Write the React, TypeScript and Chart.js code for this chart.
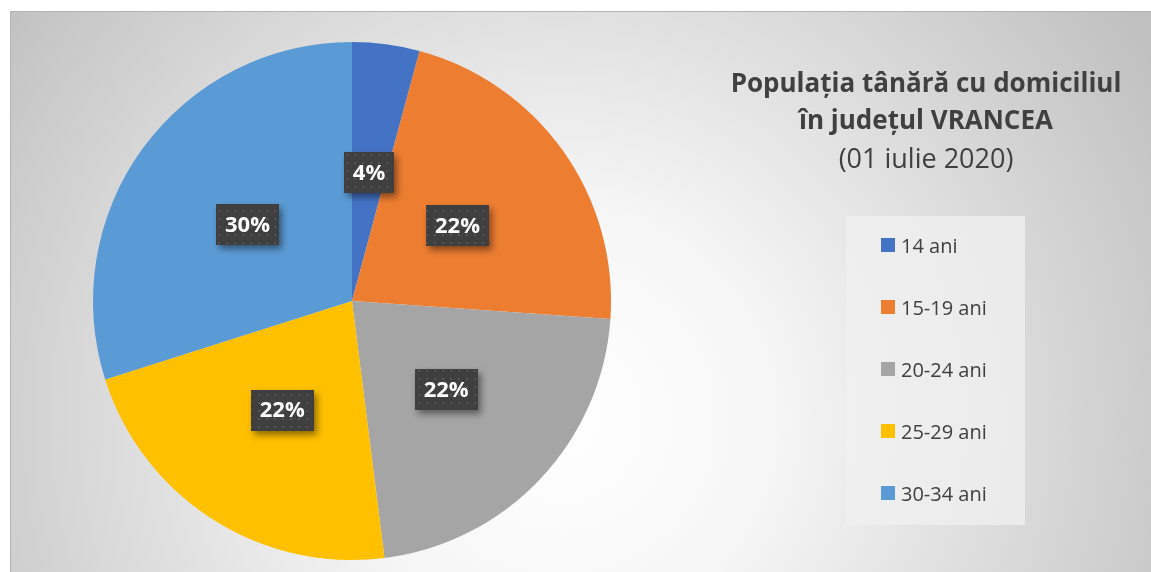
import React, { useEffect, useRef } from "react";
import { Chart, registerables } from "chart.js";

Chart.register(...registerables);

const categories = ["14 ani", "15-19 ani", "20-24 ani", "25-29 ani", "30-34 ani"];
const values = [4.2, 21.9, 21.9, 22.1, 29.9];
const colors = ["#4472C4", "#ED7D31", "#A5A5A5", "#FFC000", "#5B9BD5"];
const titleLines = ["Populația tânără cu domiciliul", "în județul VRANCEA", "(01 iulie 2020)"];

const FONT = "'Open Sans', sans-serif";
const TEXT = "#404040";

function makePattern(ctx: CanvasRenderingContext2D) {
  const c = document.createElement("canvas");
  c.width = 8;
  c.height = 8;
  const p = c.getContext("2d")!;
  p.fillStyle = "#3f3f3f";
  p.fillRect(0, 0, 8, 8);
  p.fillStyle = "#555555";
  p.fillRect(2, 2, 2, 2);
  return ctx.createPattern(c, "repeat");
}

const bgPlugin = {
  id: "bg",
  beforeDraw(chart: any) {
    const ctx = chart.ctx as CanvasRenderingContext2D;
    const W = chart.width;
    const H = chart.height;
    ctx.save();
    ctx.fillStyle = "#ffffff";
    ctx.fillRect(0, 0, W, H);
    const g = ctx.createRadialGradient(560, 420, 0, 560, 420, 700);
    g.addColorStop(0, "#ffffff");
    g.addColorStop(0.3, "#f6f6f6");
    g.addColorStop(1, "#c0c0c0");
    ctx.fillStyle = g;
    ctx.fillRect(10, 11, W - 10, H - 11);
    ctx.strokeStyle = "#b4b4b4";
    ctx.lineWidth = 1;
    ctx.beginPath();
    ctx.moveTo(10.5, H);
    ctx.lineTo(10.5, 11.5);
    ctx.lineTo(W, 11.5);
    ctx.stroke();
    ctx.restore();
  },
};

const overlayPlugin = {
  id: "overlay",
  afterDraw(chart: any) {
    const ctx = chart.ctx as CanvasRenderingContext2D;
    const meta = chart.getDatasetMeta(0);
    const data = chart.data.datasets[0].data as number[];
    const total = data.reduce((a, b) => a + b, 0);
    const pattern = makePattern(ctx);

    // data labels
    meta.data.forEach((arc: any, i: number) => {
      const mid = (arc.startAngle + arc.endAngle) / 2;
      const r = arc.outerRadius * 0.5;
      const x = arc.x + Math.cos(mid) * r;
      const y = arc.y + Math.sin(mid) * r;
      const txt = Math.round((data[i] / total) * 100) + "%";
      ctx.save();
      ctx.font = `bold 22px ${FONT}`;
      const tw = ctx.measureText(txt).width;
      const bw = tw + 18;
      const bh = 41;
      ctx.shadowColor = "rgba(0,0,0,0.45)";
      ctx.shadowBlur = 7;
      ctx.shadowOffsetX = 3;
      ctx.shadowOffsetY = 4;
      ctx.fillStyle = pattern || "#404040";
      ctx.fillRect(Math.round(x - bw / 2), Math.round(y - bh / 2), Math.round(bw), bh);
      ctx.restore();
      ctx.save();
      ctx.font = `bold 22px ${FONT}`;
      ctx.fillStyle = "#ffffff";
      ctx.textAlign = "center";
      ctx.textBaseline = "middle";
      ctx.fillText(txt, x, y + 1);
      ctx.restore();
    });

    // title
    ctx.save();
    ctx.fillStyle = TEXT;
    ctx.textAlign = "center";
    ctx.textBaseline = "middle";
    const tx = 926;
    ctx.font = `bold 26px ${FONT}`;
    ctx.fillText(titleLines[0], tx, 85);
    ctx.fillText(titleLines[1], tx, 122);
    ctx.font = `27px ${FONT}`;
    ctx.fillText(titleLines[2], tx, 160);
    ctx.restore();

    // legend box
    ctx.save();
    ctx.fillStyle = "rgba(240,240,240,0.75)";
    ctx.fillRect(846, 216, 179, 309);
    ctx.font = `20px ${FONT}`;
    ctx.textBaseline = "middle";
    ctx.textAlign = "left";
    const labels = chart.data.labels as string[];
    const cols = chart.data.datasets[0].backgroundColor as string[];
    labels.forEach((lab, i) => {
      const y = 245 + i * 62;
      ctx.fillStyle = cols[i];
      ctx.fillRect(881, y - 7, 14, 14);
      ctx.fillStyle = TEXT;
      ctx.fillText(lab, 901, y + 2);
    });
    ctx.restore();
  },
};

export default function App() {
  const ref = useRef<HTMLCanvasElement>(null);
  useEffect(() => {
    document.body.style.margin = "0";
    const chart = new Chart(ref.current!, {
      type: "pie",
      data: {
        labels: categories,
        datasets: [
          {
            data: values,
            backgroundColor: colors,
            borderWidth: 0,
          },
        ],
      },
      options: {
        responsive: false,
        animation: false,
        layout: { padding: { left: 93, right: 540, top: 42, bottom: 12 } },
        plugins: {
          legend: { display: false },
          title: { display: false },
          tooltip: { enabled: false },
        },
      },
      plugins: [bgPlugin, overlayPlugin],
    });
    return () => chart.destroy();
  }, []);
  return (
    <div style={{ position: "absolute", left: 0, top: 0, width: 1151, height: 572 }}>
      <canvas ref={ref} width={1151} height={572} />
    </div>
  );
}
